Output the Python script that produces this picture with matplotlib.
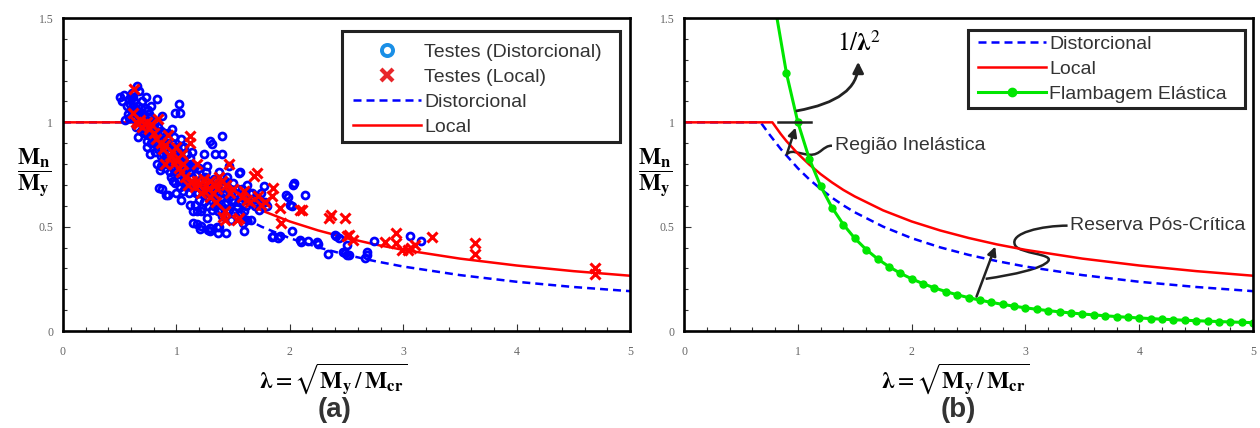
import numpy as np
import matplotlib.pyplot as plt
from matplotlib.lines import Line2D
from matplotlib.path import Path
from matplotlib.patches import PathPatch, Rectangle
from matplotlib.ticker import MultipleLocator

plt.rcParams['mathtext.fontset'] = 'stix'
plt.rcParams['font.family'] = ['Liberation Sans', 'DejaVu Sans']

# design curves (lambda, Mn/My)
lam_loc = [0, 0.776, 0.85, 0.9, 1.0, 1.1, 1.2, 1.3, 1.4, 1.5, 1.75, 2.0, 2.25, 2.5, 2.75, 3.0, 3.5, 4.0, 4.5, 5.0]
mn_loc = [1.0, 1.0, 0.944, 0.910, 0.850, 0.798, 0.752, 0.712, 0.676, 0.645, 0.578, 0.525, 0.482, 0.446,
          0.415, 0.389, 0.347, 0.314, 0.287, 0.265]
lam_dist = [0, 0.673, 0.75, 0.85, 1.0, 1.1, 1.2, 1.3, 1.4, 1.5, 1.75, 2.0, 2.25, 2.5, 2.75, 3.0, 3.5, 4.0, 4.5, 5.0]
mn_dist = [1.0, 1.0, 0.942, 0.872, 0.780, 0.727, 0.681, 0.639, 0.602, 0.569, 0.500, 0.445, 0.401, 0.365,
           0.335, 0.309, 0.268, 0.236, 0.211, 0.191]
# elastic buckling curve, points every 0.1 (first point is where it leaves the top)
lam_el = [0.8165, 0.9, 1.0, 1.1, 1.2, 1.3, 1.4, 1.5, 1.6, 1.7, 1.8, 1.9, 2.0, 2.1, 2.2, 2.3, 2.4, 2.5, 2.6, 2.7,
          2.8, 2.9, 3.0, 3.1, 3.2, 3.3, 3.4, 3.5, 3.6, 3.7, 3.8, 3.9, 4.0, 4.1, 4.2, 4.3, 4.4, 4.5, 4.6, 4.7,
          4.8, 4.9, 5.0]
mn_el = [1.5, 1.2346, 1.0, 0.8264, 0.6944, 0.5917, 0.5102, 0.4444, 0.3906, 0.3460, 0.3086, 0.2770, 0.25,
         0.2268, 0.2066, 0.1890, 0.1736, 0.16, 0.1479, 0.1372, 0.1276, 0.1189, 0.1111, 0.1041, 0.0977,
         0.0918, 0.0865, 0.0816, 0.0772, 0.0730, 0.0693, 0.0657, 0.0625, 0.0595, 0.0567, 0.0541, 0.0517,
         0.0494, 0.0473, 0.0453, 0.0434, 0.0416, 0.04]

# test results (lambda, Mn/My)
tests_dist = [
    (0.50, 1.12), (0.52, 1.10), (0.54, 1.13), (0.56, 1.08), (0.55, 1.01), (0.58, 1.11), (0.60, 1.06),
    (0.57, 1.04), (0.61, 1.14), (0.59, 1.09),
    (0.62, 1.12), (0.63, 1.02), (0.64, 0.98), (0.65, 1.175), (0.66, 1.08), (0.67, 1.15), (0.68, 1.05),
    (0.69, 0.96), (0.66, 0.93), (0.70, 1.10), (0.64, 1.06), (0.68, 1.00),
    (0.71, 1.03), (0.72, 0.97), (0.73, 1.12), (0.74, 0.91), (0.75, 1.06), (0.76, 0.99), (0.77, 0.846),
    (0.78, 1.08), (0.74, 0.88), (0.79, 0.94), (0.72, 1.07), (0.77, 1.02), (0.80, 0.90), (0.78, 0.96),
    (0.81, 1.00), (0.82, 0.93), (0.83, 1.114), (0.83, 0.80), (0.84, 0.87), (0.85, 0.686), (0.855, 0.774),
    (0.86, 0.96), (0.87, 0.68), (0.88, 0.91), (0.86, 0.84), (0.89, 0.82), (0.81, 0.86), (0.84, 0.98),
    (0.90, 0.88), (0.87, 1.03),
    (0.91, 0.65), (0.92, 0.80), (0.93, 0.95), (0.93, 0.65), (0.94, 0.86), (0.95, 0.74), (0.96, 0.90),
    (0.97, 0.83), (0.98, 0.77), (0.99, 1.047), (0.96, 0.97), (0.99, 0.71), (1.00, 0.66), (1.00, 0.88),
    (0.95, 0.81), (0.98, 0.93),
    (1.02, 1.09), (1.03, 1.047), (1.01, 0.79), (1.02, 0.72), (1.03, 0.84), (1.04, 0.92), (1.05, 0.76),
    (1.06, 0.67), (1.06, 0.81), (1.07, 0.88), (1.08, 0.694), (1.08, 0.74), (1.09, 0.85), (1.10, 0.70),
    (1.04, 0.63), (1.10, 0.79),
    (1.11, 0.76), (1.12, 0.606), (1.12, 0.83), (1.13, 0.69), (1.14, 0.74), (1.15, 0.574), (1.15, 0.518),
    (1.16, 0.606), (1.16, 0.79), (1.17, 0.66), (1.18, 0.574), (1.18, 0.513), (1.19, 0.72), (1.20, 0.63),
    (1.14, 0.86), (1.20, 0.78),
    (1.21, 0.489), (1.22, 0.574), (1.22, 0.505), (1.23, 0.69), (1.24, 0.85), (1.24, 0.62), (1.25, 0.74),
    (1.26, 0.66), (1.27, 0.542), (1.27, 0.79), (1.28, 0.486), (1.29, 0.70), (1.30, 0.494), (1.30, 0.91),
    (1.30, 0.477), (1.28, 0.60),
    (1.31, 0.894), (1.31, 0.58), (1.32, 0.66), (1.33, 0.73), (1.34, 0.846), (1.35, 0.62), (1.36, 0.50),
    (1.36, 0.69), (1.37, 0.574), (1.37, 0.47), (1.38, 0.50), (1.38, 0.76), (1.39, 0.64), (1.40, 0.934),
    (1.40, 0.846), (1.40, 0.55),
    (1.42, 0.70), (1.43, 0.61), (1.44, 0.47), (1.44, 0.66), (1.45, 0.74), (1.46, 0.58), (1.47, 0.68),
    (1.48, 0.53), (1.49, 0.63), (1.50, 0.71), (1.46, 0.79), (1.50, 0.57),
    (1.52, 0.66), (1.53, 0.60), (1.55, 0.758), (1.55, 0.62), (1.56, 0.76), (1.57, 0.56), (1.58, 0.68),
    (1.60, 0.574), (1.60, 0.477), (1.60, 0.64), (1.59, 0.52),
    (1.62, 0.70), (1.62, 0.534), (1.64, 0.62), (1.66, 0.534), (1.67, 0.66), (1.69, 0.60), (1.71, 0.64),
    (1.73, 0.58), (1.75, 0.66), (1.77, 0.694), (1.78, 0.62), (1.80, 0.60),
    (1.84, 0.45), (1.85, 0.453), (1.90, 0.446), (1.91, 0.453), (1.97, 0.654), (1.98, 0.64), (2.00, 0.606),
    (2.02, 0.600), (2.02, 0.477), (2.03, 0.70), (2.04, 0.71), (2.09, 0.434), (2.10, 0.425), (2.13, 0.654),
    (2.16, 0.43),
    (2.24, 0.425), (2.25, 0.415), (2.34, 0.37), (2.40, 0.46), (2.41, 0.453), (2.43, 0.446), (2.47, 0.38),
    (2.49, 0.373), (2.50, 0.41), (2.50, 0.365), (2.52, 0.365), (2.66, 0.35), (2.68, 0.38), (2.68, 0.365),
    (2.74, 0.43), (3.06, 0.453), (3.16, 0.43),
    (0.58, 1.02), (0.60, 1.12), (0.62, 1.08), (0.63, 1.10), (0.65, 1.04), (0.67, 1.01), (0.69, 1.07),
    (0.70, 1.04), (0.71, 0.95), (0.73, 0.99), (0.75, 0.94), (0.76, 1.04), (0.78, 0.90), (0.80, 0.98),
    (0.82, 0.96), (0.83, 0.89), (0.85, 0.92), (0.86, 0.79), (0.88, 0.85), (0.89, 0.95), (0.90, 0.78),
    (0.91, 0.84), (0.92, 0.90), (0.94, 0.76), (0.95, 0.88), (0.97, 0.72), (0.98, 0.86), (1.00, 0.76),
    (1.01, 0.83), (1.03, 0.69), (1.04, 0.80), (1.05, 0.88), (1.07, 0.72), (1.09, 0.78), (1.11, 0.66),
    (1.13, 0.80), (1.15, 0.70), (1.17, 0.75), (1.19, 0.66), (1.21, 0.72), (1.23, 0.59), (1.25, 0.68),
    (1.26, 0.76), (1.28, 0.64), (1.31, 0.69), (1.33, 0.60), (1.35, 0.72), (1.37, 0.65), (1.39, 0.58),
    (1.41, 0.66), (1.43, 0.72), (1.45, 0.62), (1.48, 0.66), (1.51, 0.62), (1.54, 0.68), (1.57, 0.64),
    (1.61, 0.60), (1.65, 0.66), (1.70, 0.62), (1.74, 0.63),
]
tests_loc = [
    (0.63, 1.16), (0.62, 1.047), (0.64, 1.00), (0.66, 0.99), (0.68, 1.01), (0.70, 0.98), (0.72, 0.99),
    (0.74, 1.00), (0.76, 0.97), (0.78, 0.99), (0.80, 0.95), (0.82, 0.92), (0.84, 1.014), (0.86, 0.90),
    (0.88, 0.87), (0.90, 0.89), (0.93, 0.94), (0.94, 0.84), (0.96, 0.86), (0.98, 0.80), (1.00, 0.82),
    (1.02, 0.78), (1.04, 0.76), (1.06, 0.80), (1.08, 0.74), (1.10, 0.70), (1.12, 0.934), (1.12, 0.90),
    (1.14, 0.72), (1.16, 0.69), (1.18, 0.72), (1.20, 0.70), (1.22, 0.66), (1.24, 0.73), (1.26, 0.70),
    (1.28, 0.68), (1.30, 0.72), (1.32, 0.66), (1.34, 0.70), (1.36, 0.68), (1.38, 0.74), (1.40, 0.72),
    (1.41, 0.545), (1.43, 0.53), (1.43, 0.574), (1.44, 0.70), (1.46, 0.80), (1.47, 0.66),
    (1.50, 0.68), (1.53, 0.533), (1.55, 0.542), (1.58, 0.64), (1.60, 0.67), (1.62, 0.63), (1.65, 0.62),
    (1.68, 0.742), (1.71, 0.755), (1.72, 0.646), (1.75, 0.606), (1.78, 0.62), (1.84, 0.646), (1.85, 0.686),
    (1.91, 0.59), (1.92, 0.518), (2.09, 0.58), (2.11, 0.58), (2.35, 0.54), (2.36, 0.555), (2.49, 0.54),
    (2.50, 0.453), (2.52, 0.46), (2.56, 0.435), (2.84, 0.425), (2.94, 0.47), (2.94, 0.42), (2.99, 0.39),
    (3.04, 0.39), (3.07, 0.40), (3.10, 0.41), (3.25, 0.45), (3.63, 0.42), (3.63, 0.37), (4.69, 0.30),
    (4.69, 0.275), (0.90, 0.80), (1.00, 0.88), (1.05, 0.85), (1.18, 0.80), (1.30, 0.64), (1.35, 0.62),
]

BLUE = '#0000ff'
RED = '#ff0000'
GREEN = '#00e600'
DASH = (3.2, 2.0)


def style_ax(ax):
    ax.set_xlim(0, 5)
    ax.set_ylim(0, 1.5)
    ax.xaxis.set_major_locator(MultipleLocator(1))
    ax.xaxis.set_minor_locator(MultipleLocator(0.2))
    ax.yaxis.set_major_locator(MultipleLocator(0.5))
    ax.yaxis.set_minor_locator(MultipleLocator(0.1))
    ax.xaxis.set_major_formatter(plt.FuncFormatter(lambda v, p: '%g' % v))
    ax.yaxis.set_major_formatter(plt.FuncFormatter(lambda v, p: '%g' % v))
    ax.tick_params(which='both', direction='in', color='#333333', width=0.8)
    ax.tick_params(which='major', length=5)
    ax.tick_params(which='minor', length=3)
    ax.tick_params(axis='x', pad=11, labelsize=8.5, labelcolor='#666666')
    ax.tick_params(axis='y', pad=7, labelsize=8.5, labelcolor='#666666')
    for lab in ax.get_xticklabels() + ax.get_yticklabels():
        lab.set_family('Liberation Serif')
    for s in ax.spines.values():
        s.set_linewidth(1.9)
        s.set_color('black')
    ax.text(0.476, -0.155, r'$\boldsymbol{\lambda} = \sqrt{\mathbf{M}_\mathbf{y}\,/\,\mathbf{M}_\mathbf{cr}}$',
            transform=ax.transAxes, ha='center', va='center', fontsize=17)
    ax.text(-0.05, 0.505, r'$\dfrac{\mathbf{M}_\mathbf{n}}{\mathbf{M}_\mathbf{y}}$',
            transform=ax.transAxes, ha='center', va='center', fontsize=17)


def boxed_legend(ax, handles, labels, box, anchor):
    # box drawn by hand: the original frame has wide padding on the right
    x0, y0, x1, y1 = box
    ax.add_patch(Rectangle((x0, y0), x1 - x0, y1 - y0, transform=ax.transAxes, fc='white',
                           ec='#222222', lw=2.2, zorder=4, clip_on=False))
    ax.legend(handles, labels, loc='upper left', bbox_to_anchor=anchor, borderaxespad=0, borderpad=0,
              fontsize=14, handlelength=3.5, handletextpad=0.15, labelspacing=0.38, frameon=False,
              labelcolor='#333333')


fig = plt.figure(figsize=(12.6, 4.28), dpi=100)
ax1 = fig.add_axes([0.05, 0.2266, 0.45, 0.7313])
ax2 = fig.add_axes([0.5429, 0.2266, 0.4516, 0.7313])

# ---- (a) ----
d = np.array(tests_dist)
l = np.array(tests_loc)
ax1.plot(lam_dist, mn_dist, color=BLUE, lw=1.8, dashes=DASH)
ax1.plot(lam_loc, mn_loc, color=RED, lw=1.8)
ax1.plot(d[:, 0], d[:, 1], ls='none', marker='o', ms=5, mfc='none', mec=BLUE, mew=2)
ax1.plot(l[:, 0], l[:, 1], ls='none', marker='x', ms=7, mec=RED, mew=2.2)
style_ax(ax1)

h1 = [Line2D([], [], ls='none', marker='o', ms=8, mfc='none', mec='#1a8fe6', mew=2.8),
      Line2D([], [], ls='none', marker='x', ms=9, mec='#e8262a', mew=3),
      Line2D([], [], color=BLUE, lw=1.8, dashes=DASH),
      Line2D([], [], color=RED, lw=1.8)]
boxed_legend(ax1, h1, ['Testes (Distorcional)', 'Testes (Local)', 'Distorcional', 'Local'],
             (0.492, 0.604, 0.982, 0.958), (0.5115, 0.92))

# ---- (b) ----
ax2.plot(lam_dist, mn_dist, color=BLUE, lw=1.8, dashes=DASH)
ax2.plot(lam_loc, mn_loc, color=RED, lw=1.8)
ax2.plot(lam_el, mn_el, color=GREEN, lw=2.2, marker='o', ms=5, markevery=list(range(1, len(lam_el))))
style_ax(ax2)

h2 = [Line2D([], [], color=BLUE, lw=1.8, dashes=DASH),
      Line2D([], [], color=RED, lw=1.8),
      Line2D([], [], color=GREEN, lw=2.2, marker='o', ms=6)]
boxed_legend(ax2, h2, ['Distorcional', 'Local', 'Flambagem Elástica'],
             (0.499, 0.712, 0.986, 0.962), (0.517, 0.945))

# annotations
ax2.plot([0.823, 1.113], [1.0, 1.0], color='#222222', lw=1.8)
ax2.text(1.54, 1.38, r'$1/\boldsymbol{\lambda}^2$', ha='center', va='center', fontsize=18)
ax2.annotate('', xy=(1.53, 1.29), xytext=(0.99, 1.055),
             arrowprops=dict(arrowstyle='-|>', lw=2, color='#222222', mutation_scale=16,
                             connectionstyle='angle3,angleA=10,angleB=-90', shrinkA=0, shrinkB=0))
ax2.text(1.33, 0.888, 'Região Inelástica', ha='left', va='center', fontsize=14, color='#333333')
reg = Path([(1.30, 0.888), (1.22, 0.89), (1.20, 0.84), (1.10, 0.845), (1.00, 0.85), (0.95, 0.87), (0.91, 0.85)],
           [Path.MOVETO, Path.CURVE4, Path.CURVE4, Path.CURVE4, Path.CURVE4, Path.CURVE4, Path.CURVE4])
ax2.add_patch(PathPatch(reg, fc='none', ec='#222222', lw=1.8))
ax2.annotate('', xy=(0.98, 0.975), xytext=(0.902, 0.846),
             arrowprops=dict(arrowstyle='-|>', lw=1.8, color='#222222', mutation_scale=13, shrinkA=0, shrinkB=0))

ax2.text(3.39, 0.505, 'Reserva Pós-Crítica', ha='left', va='center', fontsize=14, color='#333333')
res = Path([(3.37, 0.505), (3.15, 0.505), (2.85, 0.47), (2.91, 0.41),
            (2.95, 0.37), (3.25, 0.37), (3.20, 0.335),
            (3.15, 0.30), (2.90, 0.27), (2.65, 0.25)],
           [Path.MOVETO, Path.CURVE4, Path.CURVE4, Path.CURVE4, Path.CURVE4, Path.CURVE4, Path.CURVE4,
            Path.CURVE4, Path.CURVE4, Path.CURVE4])
ax2.add_patch(PathPatch(res, fc='none', ec='#222222', lw=1.8))
ax2.annotate('', xy=(2.735, 0.405), xytext=(2.57, 0.165),
             arrowprops=dict(arrowstyle='-|>', lw=1.8, color='#222222', mutation_scale=13, shrinkA=0, shrinkB=0))

fig.text(335 / 1260, 1 - 410 / 428, '(a)', ha='center', va='center', fontsize=20, fontweight='bold', color='#333333')
fig.text(958 / 1260, 1 - 410 / 428, '(b)', ha='center', va='center', fontsize=20, fontweight='bold', color='#333333')

fig.savefig('out.png', dpi=100)
